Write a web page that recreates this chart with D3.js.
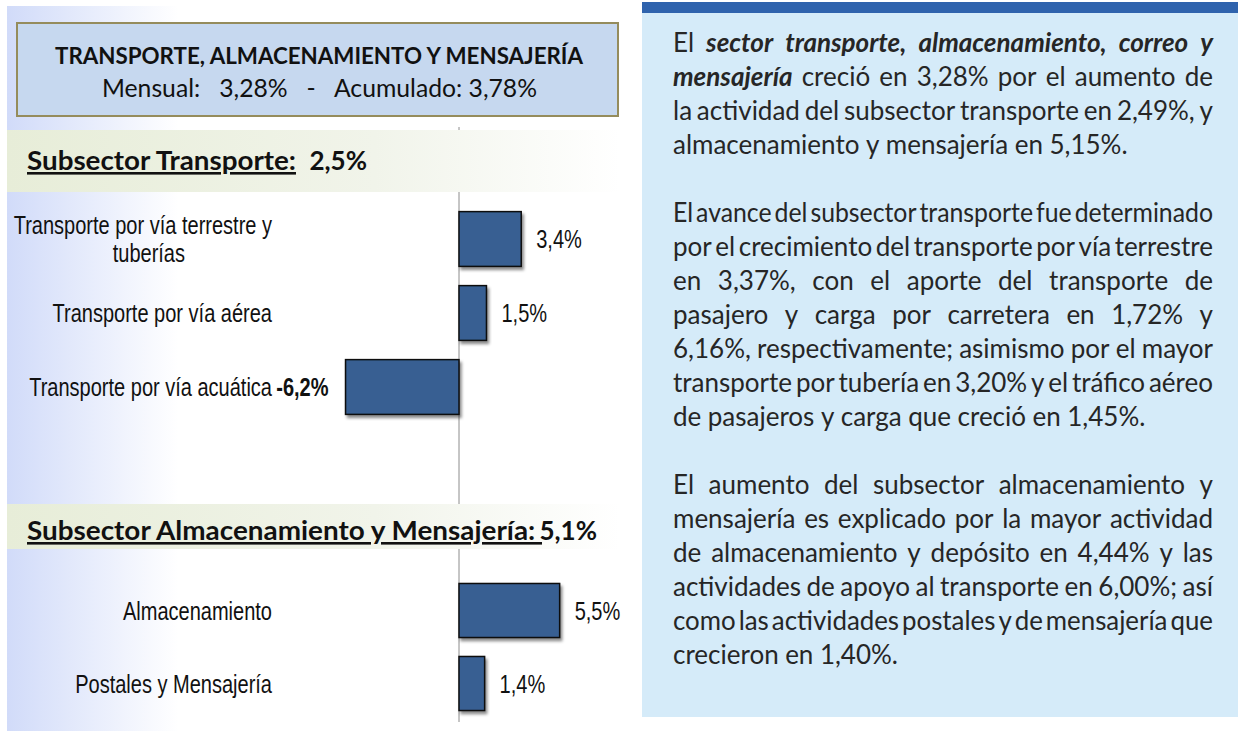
<!DOCTYPE html>
<html lang="es">
<head>
  <meta charset="UTF-8" />
  <title>Transporte, almacenamiento y mensajería</title>
  <style>
    html, body { margin: 0; padding: 0; background: #fff; }
    svg { display: block; }
    .narrow { font-family: "Liberation Sans", Arial, sans-serif; font-size: 26px; fill: #111; }
    .cal { font-family: Lato, "Open Sans", sans-serif; fill: #111; }
    .para { font-family: Lato, "Open Sans", sans-serif; font-size: 26px; fill: #262626; }
  </style>
</head>
<body>
  <svg width="1238" height="731"></svg>
  <script src="https://d3js.org/d3.v7.min.js"></script>
  <script>
    // --- data ---
    const transporteLabels = [["Transporte por vía terrestre y", "tuberías"], ["Transporte por vía aérea"], ["Transporte por vía acuática"]];
    const transporteVals = [3.4, 1.5, -6.2];
    const almacenLabels = [["Almacenamiento"], ["Postales y Mensajería"]];
    const almacenVals = [5.5, 1.4];

    const sectorTitle = "TRANSPORTE, ALMACENAMIENTO Y MENSAJERÍA";
    const sectorRates = "Mensual:   3,28%   -   Acumulado: 3,78%";
    const sub1 = ["Subsector Transporte:", "2,5%"];
    const sub2 = ["Subsector Almacenamiento y Mensajería: ", "5,1%"];

    // text on the right; *...* marks bold italic
    const paragraphs = [
      ["El *sector transporte, almacenamiento, correo y*",
       "*mensajería* creció en 3,28% por el aumento de",
       "la actividad del subsector transporte en 2,49%, y",
       "almacenamiento y mensajería en 5,15%."],
      ["El avance del subsector transporte fue determinado",
       "por el crecimiento del transporte por vía terrestre",
       "en 3,37%, con el aporte del transporte de",
       "pasajero y carga por carretera en 1,72% y",
       "6,16%, respectivamente; asimismo por el mayor",
       "transporte por tubería en 3,20% y el tráfico aéreo",
       "de pasajeros y carga que creció en 1,45%."],
      ["El aumento del subsector almacenamiento y",
       "mensajería es explicado por la mayor actividad",
       "de almacenamiento y depósito en 4,44% y las",
       "actividades de apoyo al transporte en 6,00%; así",
       "como las actividades postales y de mensajería que",
       "crecieron en 1,40%."]
    ];

    const svg = d3.select("svg");
    const fmt = d3.formatLocale({ decimal: ",", thousands: ".", grouping: [3], currency: ["", ""], minus: "-" }).format(".1f");
    const squeeze = 0.77; // Arial Narrow look

    const defs = svg.append("defs");
    const leftGrad = defs.append("linearGradient").attr("id", "leftGrad");
    leftGrad.append("stop").attr("offset", 0).attr("stop-color", "#d1dbf9");
    leftGrad.append("stop").attr("offset", 0.28).attr("stop-color", "#ffffff");
    const bandGrad = defs.append("linearGradient").attr("id", "bandGrad");
    bandGrad.append("stop").attr("offset", 0).attr("stop-color", "#e7edd8");
    bandGrad.append("stop").attr("offset", 0.6).attr("stop-color", "#f1f4ea");
    bandGrad.append("stop").attr("offset", 1).attr("stop-color", "#ffffff");
    defs.append("filter").attr("id", "shadow")
        .attr("x", "-10%").attr("y", "-10%").attr("width", "130%").attr("height", "140%")
      .append("feDropShadow")
        .attr("dx", 2).attr("dy", 3).attr("stdDeviation", 1.6)
        .attr("flood-color", "#000").attr("flood-opacity", 0.45);

    // left panel background
    svg.append("rect").attr("x", 7).attr("y", 6).attr("width", 613).attr("height", 725).attr("fill", "url(#leftGrad)");

    // title box
    svg.append("rect").attr("x", 17).attr("y", 23).attr("width", 601).attr("height", 93)
      .attr("fill", "#c6d8ef").attr("stroke", "#958c5c").attr("stroke-width", 2);
    svg.append("text").attr("class", "cal").attr("x", 55).attr("y", 64)
      .attr("font-size", 22).attr("font-weight", 700)
      .attr("textLength", 528).attr("lengthAdjust", "spacingAndGlyphs").text(sectorTitle);
    svg.append("text").attr("class", "cal").attr("x", 102).attr("y", 97)
      .attr("font-size", 25).style("white-space", "pre")
      .attr("textLength", 435).attr("lengthAdjust", "spacingAndGlyphs").text(sectorRates);

    // zero line
    const x = d3.scaleLinear().domain([-8, 6]).range([459 - 8 * 18.3, 459 + 6 * 18.3]);
    svg.append("line").attr("x1", x(0)).attr("x2", x(0)).attr("y1", 127).attr("y2", 722)
      .attr("stroke", "#8c8c8c").attr("stroke-width", 1);

    function band(y0, y1, base, parts, ulEnd, valEnd) {
      svg.append("rect").attr("x", 7).attr("y", y0).attr("width", 613).attr("height", y1 - y0).attr("fill", "url(#bandGrad)");
      svg.append("text").attr("class", "cal").attr("x", 27).attr("y", base)
        .attr("font-size", 26).attr("font-weight", 700).attr("text-decoration", "underline")
        .style("white-space", "pre")
        .attr("textLength", ulEnd - 27).attr("lengthAdjust", "spacingAndGlyphs").text(parts[0]);
      svg.append("text").attr("class", "cal").attr("x", valEnd).attr("y", base)
        .attr("font-size", 26).attr("font-weight", 700).attr("text-anchor", "end").text(parts[1]);
    }
    band(130, 192, 170, sub1, 296, 367);
    band(504, 549, 540, sub2, 542, 597);

    function narrow(g, px, py, anchor, txt, weight) {
      return g.append("text").attr("class", "narrow")
        .attr("transform", `translate(${px},${py}) scale(${squeeze},1)`)
        .attr("text-anchor", anchor).attr("font-weight", weight || 400).text(txt);
    }

    function barGroup(labels, vals, range) {
      const y = d3.scaleBand().domain(d3.range(vals.length)).range(range).paddingInner(0.26).paddingOuter(0.13);
      const g = svg.append("g");
      g.selectAll("rect").data(vals).join("rect")
        .attr("x", d => x(Math.min(0, d)))
        .attr("y", (d, i) => y(i))
        .attr("width", d => Math.abs(x(d) - x(0)))
        .attr("height", y.bandwidth())
        .attr("fill", "#375f92").attr("stroke", "#111").attr("stroke-width", 1.5)
        .attr("filter", "url(#shadow)");

      vals.forEach((d, i) => {
        const cy = y(i) + y.bandwidth() / 2 + 9;
        if (d >= 0) narrow(g, x(d) + 15, cy, "start", fmt(d) + "%");
        else narrow(g, x(d) - 17, cy, "end", fmt(d) + "%", 700);
      });

      labels.forEach((lines, i) => {
        const cy = y(i) + y.bandwidth() / 2 + 9;
        const top = cy - (lines.length - 1) * 14;
        const first = narrow(g, 272, top, "end", lines[0]);
        const w = first.node().getComputedTextLength() * squeeze;
        lines.slice(1).forEach((ln, j) => {
          narrow(g, 272 - w / 2 + 6, top + 28 * (j + 1), "middle", ln);
        });
      });
    }
    barGroup(transporteLabels, transporteVals, [202, 424]);
    barGroup(almacenLabels, almacenVals, [574, 720]);

    // right text panel
    svg.append("rect").attr("x", 642).attr("y", 2).attr("width", 596).attr("height", 715).attr("fill", "#d5ebf9");
    svg.append("rect").attr("x", 642).attr("y", 2).attr("width", 596).attr("height", 11).attr("fill", "#2f63ad");

    const left = 673, right = 1213, lineH = 34;
    let baseY = 52;
    paragraphs.forEach(lines => {
      lines.forEach((line, li) => {
        // split into words, keep the bold-italic flag
        let bi = false;
        const words = line.split(" ").filter(w => w.length).map(w => {
          let s = bi;
          if (w.startsWith("*")) { s = true; w = w.slice(1); }
          let end = s;
          if (w.endsWith("*")) { end = false; w = w.slice(0, -1); }
          bi = end;
          return { t: w, bi: s };
        });
        const g = svg.append("g");
        const nodes = words.map(w => g.append("text").attr("class", "para").attr("y", baseY)
          .attr("font-weight", w.bi ? 700 : 400).attr("font-style", w.bi ? "italic" : "normal").text(w.t));
        const widths = nodes.map(n => n.node().getComputedTextLength());
        const sum = d3.sum(widths);
        const last = li === lines.length - 1;
        let gap = last ? 6.5 : (right - left - sum) / (words.length - 1);
        let k = 1;
        if (gap < 3) { k = (right - left - 3 * (words.length - 1)) / sum; gap = 3; }
        let cx = left;
        nodes.forEach((n, i) => {
          if (k !== 1) n.attr("textLength", widths[i] * k).attr("lengthAdjust", "spacingAndGlyphs");
          n.attr("x", cx);
          cx += widths[i] * k + gap;
        });
        baseY += lineH;
      });
      baseY += lineH;
    });
  </script>
</body>
</html>
